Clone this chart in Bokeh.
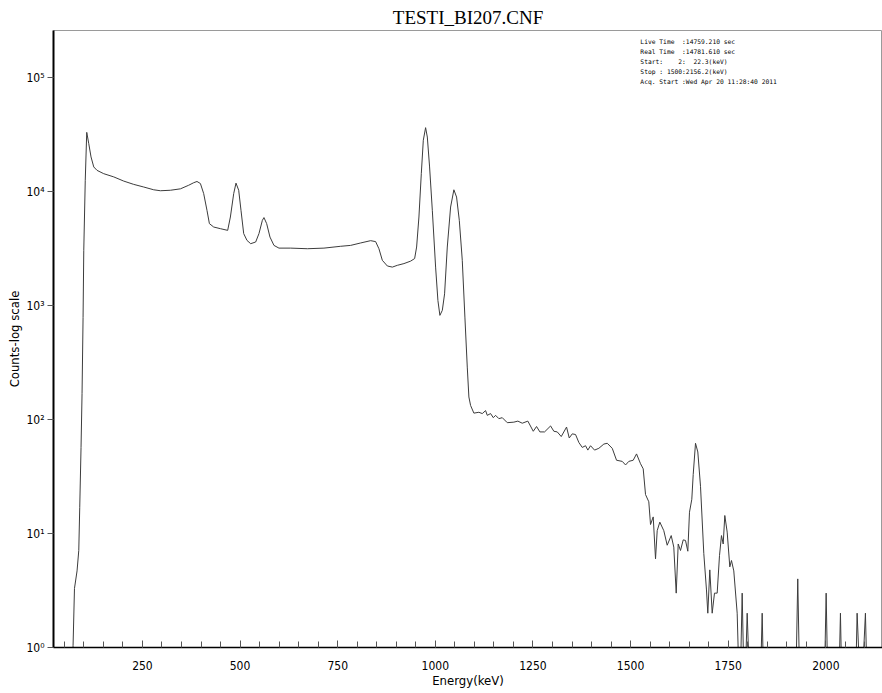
from bokeh.plotting import figure
from bokeh.models import Range1d, FixedTicker, Label
from bokeh.embed import file_html
from bokeh.resources import INLINE

# Bi-207 spectrum, energy (keV) and counts per channel; 0.3 marks empty channels
energy_kev = [
    71.5, 72.4, 76.0, 82.6, 87.0, 89.5, 92.8, 95.4, 98.0, 99.8, 103.6, 107.4,
    112.6, 118.4, 125.4, 133.8, 150.9, 176.5, 202.1, 227.7, 253.3, 278.9,
    296.1, 321.7, 347.3, 368.5, 381.3, 389.7, 398.5, 406.9, 415.3, 421.5,
    432.5, 449.6, 468.3, 475.2, 483.7, 489.6, 496.5, 502.4, 509.3, 517.7,
    527.2, 540.0, 548.4, 557.1, 561.2, 568.1, 576.6, 586.8, 599.6, 629.6,
    672.3, 714.8, 757.5, 783.1, 808.7, 834.3, 847.1, 855.6, 864.3, 877.1,
    889.9, 902.7, 919.6, 936.7, 947.0, 952.1, 958.0, 964.1, 969.2, 975.1,
    979.5, 985.3, 992.3, 1000.7, 1006.6, 1011.7, 1017.9, 1023.7, 1030.6,
    1039.1, 1047.5, 1054.4, 1061.4, 1069.0, 1075.7, 1081.8, 1085.9, 1090.3,
    1098.7, 1111.5, 1120.2, 1128.7, 1133.0, 1141.5, 1148.4, 1154.3, 1162.7,
    1171.4, 1184.2, 1201.1, 1211.3, 1222.6, 1236.9, 1250.8, 1259.2, 1267.7,
    1279.7, 1295.1, 1303.5, 1312.2, 1322.4, 1336.0, 1342.9, 1350.6, 1359.0,
    1367.5, 1376.2, 1384.6, 1390.5, 1397.4, 1407.7, 1418.7, 1431.5, 1440.2,
    1453.0, 1464.0, 1478.6, 1487.1, 1495.4, 1506.7, 1515.2, 1525.4, 1532.3,
    1538.2, 1546.6, 1551.0, 1557.9, 1563.8, 1568.1, 1574.8, 1585.0, 1593.7,
    1604.0, 1610.6, 1616.8, 1621.9, 1627.8, 1634.7, 1640.6, 1646.5, 1650.8,
    1656.7, 1660.3, 1666.2, 1672.1, 1679.0, 1687.4, 1694.3, 1697.7, 1702.8,
    1708.9, 1714.8, 1721.7, 1727.6, 1732.7, 1737.1, 1741.2, 1747.3, 1754.0,
    1758.3, 1764.2, 1772.9, 1779.5, 1785.7, 1791.6, 1798.5, 1806.9, 1831.0,
    1836.9, 1842.0, 1922.0, 1928.0, 1934.0, 1995.0, 2000.7, 2006.0, 2032.0,
    2037.3, 2042.0, 2075.0, 2080.0, 2090.0, 2101.3, 2107.0, 2145.0,
]
counts = [
    0.3, 1.04, 3.3, 4.7, 7.1, 17, 57, 170, 789, 3060, 12600, 33200,
    26400, 20200, 16500, 15400, 14400, 13500, 12400, 11600, 11000, 10400,
    10200, 10300, 10600, 11400, 12000, 12300, 11800, 9620, 6870, 5250,
    4900, 4740, 4580, 6000, 9620, 11900, 10300, 6870, 4290, 3740,
    3500, 3620, 4290, 5610, 5930, 5250, 4000, 3380, 3200, 3200,
    3160, 3200, 3320, 3380, 3550, 3720, 3650, 3160, 2500, 2230,
    2180, 2260, 2340, 2460, 2590, 3270, 6000, 14400, 28300, 36500,
    30200, 16500, 6870, 2180, 1110, 822, 910, 1270, 3270,
    7340, 10400, 8980, 5610, 2500, 794, 289, 158, 133,
    114, 116, 113, 120, 109, 113, 104, 109, 102,
    104, 94, 95, 97, 93, 97, 79, 87, 78,
    78, 88, 79, 78, 71, 86, 69, 75, 74,
    63, 57, 59, 54, 59, 54, 56, 61, 62,
    56, 44, 43, 40, 43, 44, 50, 41, 37,
    22, 19, 12, 14, 6.0, 10.6, 12.6, 10.6, 7.9,
    9.6, 7.6, 3.0, 8.1, 7.1, 8.8, 8.7, 7.0, 15.4,
    20, 33, 62, 52, 26, 6.7, 3.2, 2.0, 4.8,
    2.0, 3.0, 3.0, 6.4, 9.6, 8.1, 14.4, 10.3, 5.1,
    5.8, 4.7, 2.0, 0.3, 3.0, 0.3, 2.0, 0.3, 0.3,
    2.0, 0.3, 0.3, 4.0, 0.3, 0.3, 3.0, 0.3, 0.3,
    2.0, 0.3, 0.3, 2.0, 0.3, 2.0, 0.3, 0.3,
]

x_major_ticks = [250, 500, 750, 1000, 1250, 1500, 1750, 2000]
x_minor_ticks = [50 * k for k in range(1, 43)]
y_major_ticks = [1, 10, 100, 1000, 10000, 100000]
y_tick_labels = ["10⁰", "10¹", "10²", "10³", "10⁴", "10⁵"]

# non-breaking spaces keep the column alignment of the header block
info_lines = [
    "Live Time  :14759.210 sec",
    "Real Time  :14781.610 sec",
    "Start:    2:  22.3(keV)",
    "Stop : 1500:2156.2(keV)",
    "Acq. Start :Wed Apr 20 11:28:40 2011",
]
info_lines = [s.replace(" ", "\u00a0") for s in info_lines]

NARROW = "'DejaVu Sans Condensed', 'DejaVu Sans', sans-serif"

p = figure(
    width=882, height=693,
    y_axis_type="log",
    x_range=Range1d(22.3, 2145.0),
    y_range=Range1d(1.0, 2.6e5),
    output_backend="svg",
    toolbar_location=None,
    min_border_left=53, min_border_right=0,
    min_border_top=30, min_border_bottom=46,
    background_fill_color="white",
    border_fill_color="white",
    outline_line_color="#9a9a9a",
    outline_line_width=1,
)

p.title.text = "TESTI_BI207.CNF"
p.title.align = "center"
p.title.vertical_align = "top"
p.title.offset = -14
p.title.text_font = "Liberation Serif"
p.title.text_font_size = "19px"
p.title.text_font_style = "normal"
p.title.text_color = "black"
p.title.standoff = 2

p.xgrid.visible = False
p.ygrid.visible = False

# x axis: ticks pointing into the plot, labels every 250 keV
xa = p.xaxis[0]
xa.ticker = FixedTicker(ticks=x_major_ticks, minor_ticks=x_minor_ticks)
xa.axis_line_color = "black"
xa.axis_line_width = 1.5
xa.major_tick_in = 7
xa.major_tick_out = 0
xa.minor_tick_in = 6
xa.minor_tick_out = 0
xa.major_tick_line_color = "#555555"
xa.minor_tick_line_color = "#555555"
xa.major_label_text_font = NARROW
xa.major_label_text_font_size = "12px"
xa.major_label_text_color = "black"
xa.major_label_standoff = 13
xa.axis_label = "Energy(keV)"
xa.axis_label_text_font = NARROW
xa.axis_label_text_font_size = "13px"
xa.axis_label_text_font_style = "normal"
xa.axis_label_text_color = "black"
xa.axis_label_standoff = 0

# y axis: decades with superscript exponents
ya = p.yaxis[0]
ya.ticker = FixedTicker(ticks=y_major_ticks, minor_ticks=[])
ya.major_label_overrides = dict(zip(y_major_ticks, y_tick_labels))
ya.axis_line_color = "black"
ya.axis_line_width = 2
ya.major_tick_in = 0
ya.major_tick_out = 6
ya.major_tick_line_color = "#555555"
ya.major_label_text_font = NARROW
ya.major_label_text_font_size = "12px"
ya.major_label_text_color = "black"
ya.major_label_standoff = 3
ya.axis_label = "Counts-log scale"
ya.axis_label_text_font = NARROW
ya.axis_label_text_font_size = "13px"
ya.axis_label_text_font_style = "normal"
ya.axis_label_text_color = "black"
ya.axis_label_standoff = 1

p.line(energy_kev, counts, line_color="#3c3c3c", line_width=1)

# acquisition details in the upper right corner
for i, line in enumerate(info_lines):
    p.add_layout(Label(
        x=1525.0, y=2.09e5, y_offset=-10 * i,
        text=line,
        text_font="DejaVu Sans Mono",
        text_font_size="6.3px",
        text_baseline="middle",
        text_align="left",
        text_color="black",
    ))

open("out.html", "w").write(file_html(p, INLINE))
